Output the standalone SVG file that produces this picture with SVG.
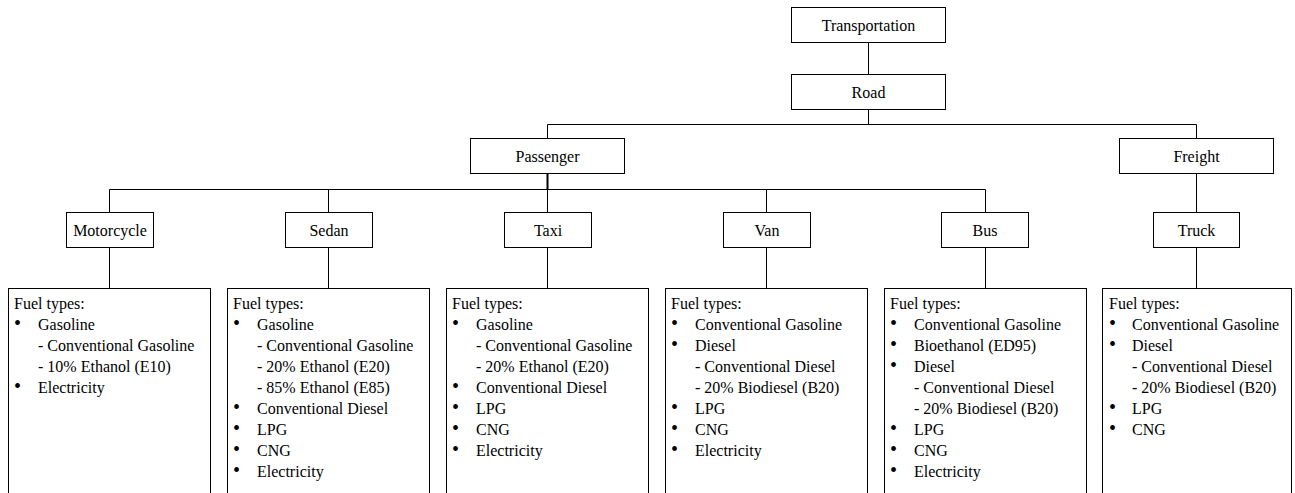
<svg xmlns="http://www.w3.org/2000/svg" width="1295" height="493" viewBox="0 0 1295 493">
<style>
.box{fill:#fff;stroke:#000;stroke-width:1}
.lbl{font-family:"Liberation Serif","Times New Roman",serif;font-size:16px;fill:#000;text-anchor:middle}
.ft{font-family:"Liberation Serif","Times New Roman",serif;font-size:16px;fill:#000}
.b{font-size:20px}
.con{fill:none;stroke:#000;stroke-width:1}
</style>
<rect width="1295" height="493" fill="#fff"/>
<g id="connectors">
<path class="con" d="M868.5 43V74M868.5 109V124.5M547.5 124.5H1196.5M547.5 124.5V138M1196.5 124.5V138M109.5 189.5H985.5M109.5 189.5V212M328.5 189.5V212M547.5 189.5V212M766.5 189.5V212M985.5 189.5V212M1196.5 173V212M109.5 248V288M328.5 248V288M547.5 248V288M766.5 248V288M985.5 248V288M1196.5 248V288"/>
<path class="con" style="stroke-width:2" d="M547.5 173V189.5"/>
</g>
<g id="transportation"><rect class="box" x="791.5" y="7.5" width="154" height="35"/><text class="lbl" x="868.5" y="31">Transportation</text></g>
<g id="road"><rect class="box" x="791.5" y="74.5" width="154" height="35"/><text class="lbl" x="868.5" y="97.5">Road</text></g>
<g id="passenger"><rect class="box" x="470.5" y="138.5" width="154" height="35"/><text class="lbl" x="547.5" y="161.5">Passenger</text></g>
<g id="freight"><rect class="box" x="1119.5" y="138.5" width="154" height="35"/><text class="lbl" x="1196.5" y="161.5">Freight</text></g>
<g id="motorcycle"><rect class="box" x="66.5" y="212.5" width="87" height="35"/><text class="lbl" x="110" y="236">Motorcycle</text></g>
<g id="sedan"><rect class="box" x="285.5" y="212.5" width="87" height="35"/><text class="lbl" x="329" y="236">Sedan</text></g>
<g id="taxi"><rect class="box" x="504.5" y="212.5" width="87" height="35"/><text class="lbl" x="548" y="236">Taxi</text></g>
<g id="van"><rect class="box" x="723.5" y="212.5" width="87" height="35"/><text class="lbl" x="767" y="236">Van</text></g>
<g id="bus"><rect class="box" x="941.5" y="212.5" width="87" height="35"/><text class="lbl" x="985" y="236">Bus</text></g>
<g id="truck"><rect class="box" x="1153.5" y="212.5" width="86" height="35"/><text class="lbl" x="1196.5" y="236">Truck</text></g>
<g id="motorcycle-fuels"><rect class="box" x="8.5" y="288.5" width="202" height="220"/>
<text class="ft"><tspan x="14" y="309">Fuel types:</tspan><tspan class="b" x="14" dy="21">•</tspan><tspan x="38">Gasoline</tspan><tspan x="38" dy="21">- Conventional Gasoline</tspan><tspan x="38" dy="21">- 10% Ethanol (E10)</tspan><tspan class="b" x="14" dy="21">•</tspan><tspan x="38">Electricity</tspan></text></g>
<g id="sedan-fuels"><rect class="box" x="227.5" y="288.5" width="202" height="220"/>
<text class="ft"><tspan x="233" y="309">Fuel types:</tspan><tspan class="b" x="233" dy="21">•</tspan><tspan x="257">Gasoline</tspan><tspan x="257" dy="21">- Conventional Gasoline</tspan><tspan x="257" dy="21">- 20% Ethanol (E20)</tspan><tspan x="257" dy="21">- 85% Ethanol (E85)</tspan><tspan class="b" x="233" dy="21">•</tspan><tspan x="257">Conventional Diesel</tspan><tspan class="b" x="233" dy="21">•</tspan><tspan x="257">LPG</tspan><tspan class="b" x="233" dy="21">•</tspan><tspan x="257">CNG</tspan><tspan class="b" x="233" dy="21">•</tspan><tspan x="257">Electricity</tspan></text></g>
<g id="taxi-fuels"><rect class="box" x="446.5" y="288.5" width="202" height="220"/>
<text class="ft"><tspan x="452" y="309">Fuel types:</tspan><tspan class="b" x="452" dy="21">•</tspan><tspan x="476">Gasoline</tspan><tspan x="476" dy="21">- Conventional Gasoline</tspan><tspan x="476" dy="21">- 20% Ethanol (E20)</tspan><tspan class="b" x="452" dy="21">•</tspan><tspan x="476">Conventional Diesel</tspan><tspan class="b" x="452" dy="21">•</tspan><tspan x="476">LPG</tspan><tspan class="b" x="452" dy="21">•</tspan><tspan x="476">CNG</tspan><tspan class="b" x="452" dy="21">•</tspan><tspan x="476">Electricity</tspan></text></g>
<g id="van-fuels"><rect class="box" x="665.5" y="288.5" width="202" height="220"/>
<text class="ft"><tspan x="671" y="309">Fuel types:</tspan><tspan class="b" x="671" dy="21">•</tspan><tspan x="695">Conventional Gasoline</tspan><tspan class="b" x="671" dy="21">•</tspan><tspan x="695">Diesel</tspan><tspan x="695" dy="21">- Conventional Diesel</tspan><tspan x="695" dy="21">- 20% Biodiesel (B20)</tspan><tspan class="b" x="671" dy="21">•</tspan><tspan x="695">LPG</tspan><tspan class="b" x="671" dy="21">•</tspan><tspan x="695">CNG</tspan><tspan class="b" x="671" dy="21">•</tspan><tspan x="695">Electricity</tspan></text></g>
<g id="bus-fuels"><rect class="box" x="884.5" y="288.5" width="202" height="220"/>
<text class="ft"><tspan x="890" y="309">Fuel types:</tspan><tspan class="b" x="890" dy="21">•</tspan><tspan x="914">Conventional Gasoline</tspan><tspan class="b" x="890" dy="21">•</tspan><tspan x="914">Bioethanol (ED95)</tspan><tspan class="b" x="890" dy="21">•</tspan><tspan x="914">Diesel</tspan><tspan x="914" dy="21">- Conventional Diesel</tspan><tspan x="914" dy="21">- 20% Biodiesel (B20)</tspan><tspan class="b" x="890" dy="21">•</tspan><tspan x="914">LPG</tspan><tspan class="b" x="890" dy="21">•</tspan><tspan x="914">CNG</tspan><tspan class="b" x="890" dy="21">•</tspan><tspan x="914">Electricity</tspan></text></g>
<g id="truck-fuels"><rect class="box" x="1102.5" y="288.5" width="189" height="220"/>
<text class="ft"><tspan x="1109" y="309">Fuel types:</tspan><tspan class="b" x="1109" dy="21">•</tspan><tspan x="1132">Conventional Gasoline</tspan><tspan class="b" x="1109" dy="21">•</tspan><tspan x="1132">Diesel</tspan><tspan x="1132" dy="21">- Conventional Diesel</tspan><tspan x="1132" dy="21">- 20% Biodiesel (B20)</tspan><tspan class="b" x="1109" dy="21">•</tspan><tspan x="1132">LPG</tspan><tspan class="b" x="1109" dy="21">•</tspan><tspan x="1132">CNG</tspan></text></g>
</svg>
